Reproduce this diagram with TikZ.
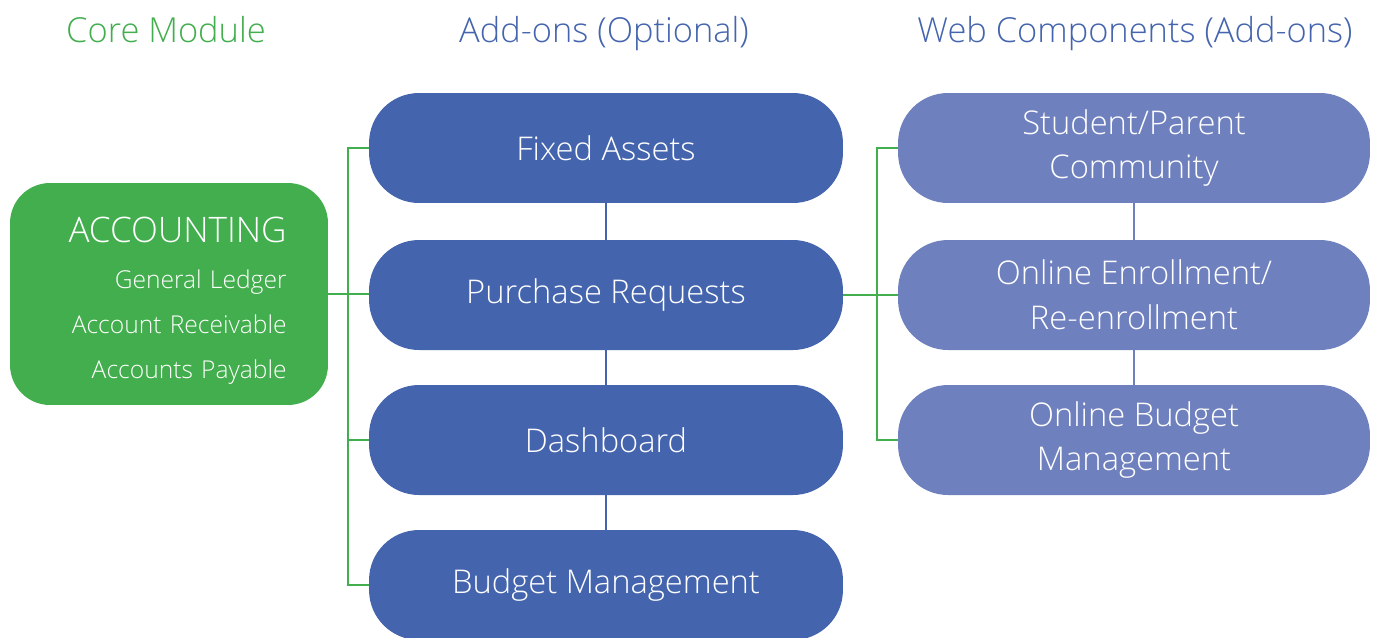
\documentclass[tikz,border=0pt]{standalone}
\usepackage{fontspec}
\IfFontExistsTF{Open Sans Light}{\setmainfont{Open Sans Light}}{\setmainfont{Open Sans}}
\usepackage{tikz}
\definecolor{coregreen}{RGB}{66,174,77}
\definecolor{addblue}{RGB}{68,100,173}
\definecolor{webblue}{RGB}{111,128,190}

\begin{document}
\begin{tikzpicture}[x=0.02cm, y=-0.02cm, every node/.style={font=\fontsize{18.6}{25.5}\selectfont}]
	\tikzset{
		head/.style={anchor=base, font=\fontsize{19.6}{22}\selectfont},
		corebox/.style={fill=coregreen, rounded corners=0.8cm, minimum width=6.36cm, minimum height=4.44cm},
		coretext/.style={text=white, inner sep=0pt, text width=4.72cm, align=right, font=\fontsize{14}{25.8}\selectfont},
		addbox/.style={fill=addblue, text=white, rounded corners=1cm, minimum width=9.48cm, minimum height=2.2cm, align=center},
		webbox/.style={addbox, fill=webblue, minimum width=9.44cm},
		gline/.style={draw=coregreen, line width=1.4pt},
		bline/.style={draw=addblue, line width=1.4pt},
		wline/.style={draw=webblue, line width=1.4pt}
	}
	\useasboundingbox (0,0) rectangle (1376,637);
	
	% column titles
	\node[head, text=coregreen] (hcore) at (166,42) {Core Module};
	\node[head, text=addblue] (hadd) at (604,42) {Add-ons (Optional)};
	\node[head, text=addblue] (hweb) at (1135,42) {Web Components (Add-ons)};
	
	% core module
	\node[corebox] (core) at (169,294) {};
	\node[coretext, anchor=north east] (acc) at (287,217) {{\fontsize{20}{25.8}\selectfont ACCOUNTING}\\General Ledger\\Account Receivable\\Accounts Payable};
	
	% add-ons
	\node[addbox] (fa) at (606,148) {Fixed Assets};
	\node[addbox] (pr) at (606,295) {Purchase Requests};
	\node[addbox] (db) at (606,440) {Dashboard};
	\node[addbox] (bm) at (606,585) {Budget Management};
	
	% web components
	\node[webbox] (sp) at (1134,148) {Student/Parent\\Community};
	\node[webbox] (oe) at (1134,295) {Online Enrollment/\\Re-enrollment};
	\node[webbox] (ob) at (1134,440) {Online Budget\\Management};
	
	% connectors
	\coordinate (lsp) at (348,0);
	\coordinate (rsp) at (877,0);
	\draw[gline] (core.east) -- (core.east -| pr.west);
	\draw[gline] (fa.west) -- (fa.west -| lsp) -- (bm.west -| lsp) -- (bm.west);
	\draw[gline] (db.west -| lsp) -- (db.west);
	\draw[gline] (pr.east) -- (oe.west);
	\draw[gline] (sp.west) -- (sp.west -| rsp) -- (ob.west -| rsp) -- (ob.west);
	
	\draw[bline] (fa) -- (pr);
	\draw[bline] (pr) -- (db);
	\draw[bline] (db) -- (bm);
	\draw[wline] (sp) -- (oe);
	\draw[wline] (oe) -- (ob);
\end{tikzpicture}
\end{document}
